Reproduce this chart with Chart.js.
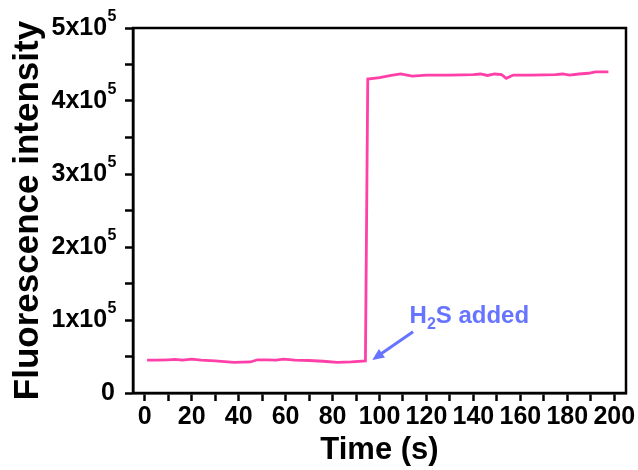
<!DOCTYPE html>
<html lang="en">
<head>
  <meta charset="UTF-8" />
  <title>Fluorescence intensity vs time</title>
  <script src="https://cdn.jsdelivr.net/npm/chart.js"></script>
  <style>
    body { margin: 0; background: #fff; }
    canvas { display: block; }
  </style>
</head>
<body>
  <canvas id="chart" width="638" height="470"></canvas>

  <script>
    // time (s) and intensity
    const timeS = [1, 5, 10, 13, 16, 20, 24, 30, 38, 45, 48, 52, 56, 59, 64, 70, 76, 82, 88, 94,
      95, 100, 105, 109, 114, 120, 130, 140, 143, 146, 149, 152, 154, 157, 165, 175, 178, 181, 185, 189, 192, 197.5];
    const intensity = [45000, 45000, 45500, 46000, 45000, 46500, 45000, 44000, 42000, 42500, 45500, 45500, 45000, 46500, 45000, 44500, 43500, 42000, 42500, 44000,
      430000, 432000, 435000, 437000, 434000, 435500, 435500, 436000, 437000, 435000, 437000, 436000, 431000, 435500, 435500, 436000, 437000, 435500, 437000, 438000, 440000, 440000];

    const yTickValues = [0, 100000, 200000, 300000, 400000, 500000];
    const yTickMantissa = ['0', '1', '2', '3', '4', '5'];

    // annotation: text anchor and arrow (data coordinates)
    const noteText = ['H', '2', 'S added'];
    const notePos = { x: 112.8, y: 96300 };
    const arrowFrom = { x: 114.3, y: 84000 };
    const arrowTo = { x: 96.9, y: 45200 };

    const lineColor = '#ff40a8';
    const noteColor = '#6674ff';
    const fontFamily = 'Arial, "Liberation Sans", sans-serif';

    const points = timeS.map((t, i) => ({ x: t, y: intensity[i] }));

    const extras = {
      id: 'extras',
      afterDraw(chart) {
        const { ctx, chartArea: a, scales: { x, y } } = chart;
        ctx.save();

        // frame
        ctx.strokeStyle = '#000';
        ctx.lineWidth = 2.5;
        ctx.strokeRect(a.left, a.top, a.right - a.left, a.bottom - a.top);

        // y tick labels with superscript
        ctx.fillStyle = '#000';
        ctx.textBaseline = 'middle';
        const rightEdge = 116;
        yTickValues.forEach((v, i) => {
          const py = y.getPixelForValue(v);
          if (v === 0) {
            ctx.font = 'bold 25px ' + fontFamily;
            ctx.textAlign = 'right';
            ctx.fillText('0', rightEdge - 1, py);
            return;
          }
          const main = yTickMantissa[i] + 'x10';
          ctx.font = 'bold 16px ' + fontFamily;
          const supW = ctx.measureText('5').width;
          ctx.font = 'bold 25px ' + fontFamily;
          const mainW = ctx.measureText(main).width;
          ctx.textAlign = 'left';
          const x0 = rightEdge - supW - mainW;
          ctx.fillText(main, x0, py);
          ctx.font = 'bold 16px ' + fontFamily;
          ctx.fillText('5', x0 + mainW + 0.5, py - 11);
        });

        // annotation text
        ctx.fillStyle = noteColor;
        ctx.textAlign = 'left';
        ctx.textBaseline = 'alphabetic';
        let tx = x.getPixelForValue(notePos.x);
        const ty = y.getPixelForValue(notePos.y);
        ctx.font = 'bold 24px ' + fontFamily;
        ctx.fillText(noteText[0], tx, ty);
        tx += ctx.measureText(noteText[0]).width;
        ctx.font = 'bold 16px ' + fontFamily;
        ctx.fillText(noteText[1], tx, ty + 6);
        tx += ctx.measureText(noteText[1]).width;
        ctx.font = 'bold 24px ' + fontFamily;
        ctx.fillText(noteText[2], tx, ty);

        // arrow
        const x1 = x.getPixelForValue(arrowFrom.x), y1 = y.getPixelForValue(arrowFrom.y);
        const x2 = x.getPixelForValue(arrowTo.x), y2 = y.getPixelForValue(arrowTo.y);
        const ang = Math.atan2(y2 - y1, x2 - x1);
        const head = 13;
        ctx.strokeStyle = noteColor;
        ctx.lineWidth = 3;
        ctx.beginPath();
        ctx.moveTo(x1, y1);
        ctx.lineTo(x2 - Math.cos(ang) * head * 0.8, y2 - Math.sin(ang) * head * 0.8);
        ctx.stroke();
        ctx.beginPath();
        ctx.moveTo(x2, y2);
        ctx.lineTo(x2 - head * Math.cos(ang - 0.42), y2 - head * Math.sin(ang - 0.42));
        ctx.lineTo(x2 - head * Math.cos(ang + 0.42), y2 - head * Math.sin(ang + 0.42));
        ctx.closePath();
        ctx.fillStyle = noteColor;
        ctx.fill();

        ctx.restore();
      }
    };

    new Chart(document.getElementById('chart'), {
      type: 'line',
      data: {
        datasets: [{
          data: points,
          borderColor: lineColor,
          borderWidth: 2.8,
          pointRadius: 0,
          tension: 0,
          fill: false
        }]
      },
      options: {
        responsive: false,
        animation: false,
        devicePixelRatio: 1,
        layout: { padding: { left: 0, right: 12, top: 28, bottom: 0 } },
        plugins: { legend: { display: false }, tooltip: { enabled: false } },
        scales: {
          x: {
            type: 'linear',
            min: -5,
            max: 205,
            afterBuildTicks: s => {
              s.ticks = [];
              for (let v = 0; v <= 200; v += 10) s.ticks.push({ value: v });
            },
            afterFit: s => { s.height = 77; },
            grid: { drawOnChartArea: false, tickLength: 8, tickWidth: 2.5, tickColor: '#000' },
            border: { display: true, color: '#000', width: 2.5 },
            ticks: {
              autoSkip: false,
              maxRotation: 0,
              padding: 1,
              color: '#000',
              font: { family: fontFamily, size: 25, weight: 'bold' },
              callback: v => (v % 20 === 0 ? String(v) : '')
            },
            title: {
              display: true,
              text: 'Time (s)',
              color: '#000',
              padding: { top: 0, bottom: 1 },
              font: { family: fontFamily, size: 31, weight: 'bold' }
            }
          },
          y: {
            min: 0,
            max: 500000,
            afterBuildTicks: s => {
              s.ticks = [];
              for (let v = 0; v <= 500000; v += 50000) s.ticks.push({ value: v });
            },
            afterFit: s => { s.width = 133; },
            grid: { drawOnChartArea: false, tickLength: 8, tickWidth: 2.5, tickColor: '#000' },
            border: { display: true, color: '#000', width: 2.5 },
            ticks: { display: false },
            title: {
              display: true,
              text: 'Fluorescence intensity',
              color: '#000',
              padding: { top: 7, bottom: 0 },
              font: { family: fontFamily, size: 35, weight: 'bold' }
            }
          }
        }
      },
      plugins: [extras]
    });
  </script>
</body>
</html>
